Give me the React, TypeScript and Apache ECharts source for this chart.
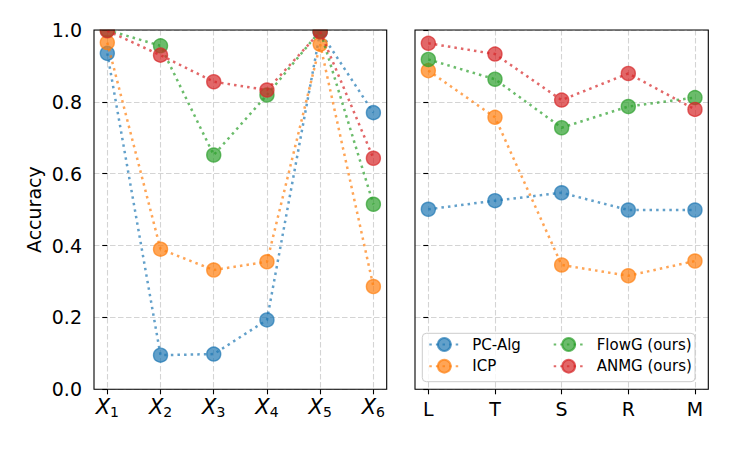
import React, { useEffect, useRef } from "react";
import * as echarts from "echarts";

const leftSubs = ["1", "2", "3", "4", "5", "6"];
const rightCats = ["L", "T", "S", "R", "M"];
const seriesNames = ["PC-Alg", "ICP", "FlowG (ours)", "ANMG (ours)"];
const colors = ["31,119,180", "255,127,14", "44,160,44", "214,39,40"];

const pcAlgLeft = [0.935, 0.095, 0.098, 0.193, 0.995, 0.77];
const icpLeft = [0.965, 0.39, 0.332, 0.355, 0.96, 0.286];
const flowgLeft = [1.0, 0.956, 0.652, 0.819, 0.998, 0.515];
const anmgLeft = [0.998, 0.93, 0.856, 0.833, 0.995, 0.643];

const pcAlgRight = [0.501, 0.525, 0.547, 0.499, 0.499];
const icpRight = [0.887, 0.757, 0.346, 0.316, 0.357];
const flowgRight = [0.918, 0.863, 0.728, 0.787, 0.812];
const anmgRight = [0.963, 0.933, 0.805, 0.879, 0.779];

const FONT = "DejaVu Sans";

export default function App() {
  const ref = useRef<HTMLDivElement>(null);
  useEffect(() => {
    if (!ref.current) return;
    const chart = echarts.init(ref.current, null, { renderer: "svg" });

    const G = [
      { left: 94, top: 30, width: 292.7, height: 359.3 },
      { left: 415, top: 30, width: 293.3, height: 359.3 },
    ];

    const leftData = [pcAlgLeft, icpLeft, flowgLeft, anmgLeft];
    const rightData = [pcAlgRight, icpRight, flowgRight, anmgRight];

    const mkSeries = (name: string, idx: number, vals: number[], gi: number) => ({
      type: "line",
      name,
      xAxisIndex: gi,
      yAxisIndex: gi,
      data: vals.map((v, i) => [i, v]),
      symbol: "circle",
      symbolSize: 14,
      clip: false,
      lineStyle: {
        color: `rgba(${colors[idx]},0.7)`,
        width: 2.5,
        type: [2.5, 4.1],
        cap: "butt",
      },
      itemStyle: {
        color: `rgba(${colors[idx]},0.7)`,
        borderColor: `rgba(${colors[idx]},0.7)`,
        borderWidth: 1.4,
        opacity: 1,
      },
      emphasis: { disabled: true },
      z: 2 + idx * 0.01,
    });

    const series: any[] = [];
    seriesNames.forEach((n, i) => series.push(mkSeries(n, i, leftData[i], 0)));
    seriesNames.forEach((n, i) => series.push(mkSeries(n, i, rightData[i], 1)));

    const splitLine = {
      show: true,
      lineStyle: { color: "#d4d4d4", width: 1.1, type: [5.5, 2.5] },
    };
    const tick = {
      show: true,
      inside: false,
      length: 5,
      lineStyle: { color: "#000", width: 1.1 },
    };

    const legendCommon = {
      orient: "vertical",
      itemWidth: 30,
      itemHeight: 16,
      itemGap: 6.7,
      selectedMode: false,
      padding: 0,
      textStyle: {
        fontFamily: FONT,
        fontSize: 15,
        color: "#000",
        padding: [0, 0, 0, 8],
      },
      z: 20,
    };

    const option: any = {
      animation: false,
      backgroundColor: "#fff",
      textStyle: { fontFamily: FONT },
      grid: G.map((g) => ({ ...g, show: false, containLabel: false })),
      xAxis: [
        {
          type: "value",
          gridIndex: 0,
          min: -0.25,
          max: 5.25,
          axisLine: { show: false },
          axisTick: { ...tick, customValues: [0, 1, 2, 3, 4, 5] },
          splitLine,
          axisLabel: {
            customValues: [0, 1, 2, 3, 4, 5],
            margin: 6,
            formatter: (v: number) => `{i|X}{s|${leftSubs[Math.round(v)]}}`,
            rich: {
              i: {
                fontFamily: FONT,
                fontStyle: "italic",
                fontSize: 21,
                lineHeight: 24,
                color: "#000",
              },
              s: {
                fontFamily: FONT,
                fontSize: 14,
                lineHeight: 12,
                verticalAlign: "bottom",
                color: "#000",
              },
            },
          },
        },
        {
          type: "value",
          gridIndex: 1,
          min: -0.2,
          max: 4.2,
          axisLine: { show: false },
          axisTick: { ...tick, customValues: [0, 1, 2, 3, 4] },
          splitLine,
          axisLabel: {
            customValues: [0, 1, 2, 3, 4],
            margin: 10,
            fontFamily: FONT,
            fontSize: 19,
            color: "#000",
            formatter: (v: number) => rightCats[Math.round(v)],
          },
        },
      ],
      yAxis: [
        {
          type: "value",
          gridIndex: 0,
          min: 0,
          max: 1,
          interval: 0.2,
          axisLine: { show: false },
          axisTick: tick,
          splitLine,
          name: "Accuracy",
          nameLocation: "middle",
          nameGap: 51,
          nameTextStyle: { fontFamily: FONT, fontSize: 19, color: "#000" },
          axisLabel: {
            margin: 12,
            fontFamily: FONT,
            fontSize: 19,
            color: "#000",
            formatter: (v: number) => v.toFixed(1),
          },
        },
        {
          type: "value",
          gridIndex: 1,
          min: 0,
          max: 1,
          interval: 0.2,
          axisLine: { show: false },
          axisTick: tick,
          splitLine,
          axisLabel: { show: false },
        },
      ],
      legend: [
        {
          ...legendCommon,
          left: 428.3,
          top: 337,
          data: [seriesNames[0], seriesNames[1]],
        },
        {
          ...legendCommon,
          left: 552.7,
          top: 337,
          data: [seriesNames[2], seriesNames[3]],
        },
      ],
      graphic: [
        ...G.map((g) => ({
          type: "rect",
          z: 9,
          silent: true,
          shape: { x: g.left + 1, y: g.top - 10, width: g.width - 2, height: 9.5 },
          style: { fill: "#fff" },
        })),
        {
          type: "rect",
          z: 10,
          silent: true,
          shape: { x: 422.3, y: 333.3, width: 272.7, height: 48.4, r: 4 },
          style: { fill: "rgba(255,255,255,0.8)", stroke: "#cccccc", lineWidth: 1 },
        },
        ...G.map((g) => ({
          type: "rect",
          z: 11,
          silent: true,
          shape: { x: g.left, y: g.top, width: g.width, height: g.height },
          style: { fill: "none", stroke: "#000", lineWidth: 1.1 },
        })),
      ],
      series,
    };

    chart.setOption(option);
    return () => chart.dispose();
  }, []);

  return (
    <div
      ref={ref}
      style={{ position: "fixed", left: 0, top: 0, width: 747, height: 449 }}
    />
  );
}
